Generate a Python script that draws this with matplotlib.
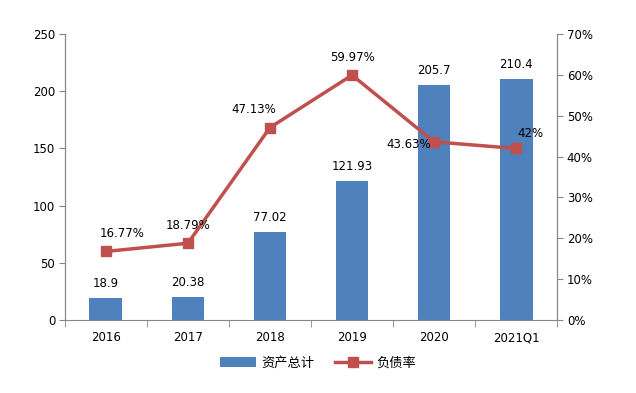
import matplotlib
matplotlib.use("Agg")
import matplotlib.pyplot as plt
from matplotlib.ticker import FuncFormatter, FixedLocator

plt.rcParams['font.family'] = ['DejaVu Sans', 'Noto Sans CJK SC']

# data
categories = ['2016', '2017', '2018', '2019', '2020', '2021Q1']
assets = [18.9, 20.38, 77.02, 121.93, 205.7, 210.4]
debt_ratio = [16.77, 18.79, 47.13, 59.97, 43.63, 42.0]
ratio_labels = ['16.77%', '18.79%', '47.13%', '59.97%', '43.63%', '42%']
asset_labels = ['18.9', '20.38', '77.02', '121.93', '205.7', '210.4']

blue = '#4F81BD'
red = '#C0504D'
gray = '#868686'

fig = plt.figure(figsize=(6.36, 3.93), dpi=100)
ax = fig.add_axes([0.102, 0.186, 0.774, 0.727])
ax2 = ax.twinx()

x = list(range(len(categories)))
ax.bar(x, assets, width=0.4, color=blue, label='资产总计', zorder=2)
for xi, v, s in zip(x, assets, asset_labels):
    ax.text(xi, v + 7, s, ha='center', va='bottom', fontsize=8.5)

ax2.plot(x, debt_ratio, color=red, lw=2.5, marker='s', ms=7, label='负债率', zorder=3)

# label offsets (points) for line labels
offs = [(12, 8), (0, 8), (-12, 8), (0, 8), (-2, -2), (10, 6)]
ha = ['center', 'center', 'center', 'center', 'right', 'center']
va = ['bottom', 'bottom', 'bottom', 'bottom', 'center', 'bottom']
for xi, v, s, o, h, vv in zip(x, debt_ratio, ratio_labels, offs, ha, va):
    ax2.annotate(s, (xi, v), xytext=o, textcoords='offset points',
                 ha=h, va=vv, fontsize=8.5, zorder=4)

ax.set_xlim(-0.5, len(categories) - 0.5)
ax.set_ylim(0, 250)
ax2.set_ylim(0, 70)
ax.set_yticks(range(0, 251, 50))
ax2.set_yticks(range(0, 71, 10))
ax2.yaxis.set_major_formatter(FuncFormatter(lambda v, p: f'{int(v)}%'))

ax.set_xticks(x)
ax.set_xticklabels(categories)
ax.xaxis.set_minor_locator(FixedLocator([i - 0.5 for i in range(len(categories) + 1)]))
ax.tick_params(axis='x', which='major', length=0, pad=8, labelsize=8.5)
ax.tick_params(axis='x', which='minor', length=5, color=gray, direction='out')
ax.tick_params(axis='y', length=4, color=gray, labelsize=8.5, pad=3)
ax2.tick_params(axis='y', length=4, color=gray, labelsize=8.5, pad=3)

for a in (ax, ax2):
    a.spines['top'].set_visible(False)
    for sp in ('left', 'right', 'bottom'):
        a.spines[sp].set_color(gray)
ax2.spines['bottom'].set_visible(False)

h1, l1 = ax.get_legend_handles_labels()
h2, l2 = ax2.get_legend_handles_labels()
fig.legend(h1 + h2, l1 + l2, loc='lower center', bbox_to_anchor=(0.5, 0.03),
           ncol=2, frameon=False, fontsize=9.5, handlelength=2.8, columnspacing=1.5,
           handleheight=0.8, handletextpad=0.4)

fig.savefig('out.png', dpi=100)
